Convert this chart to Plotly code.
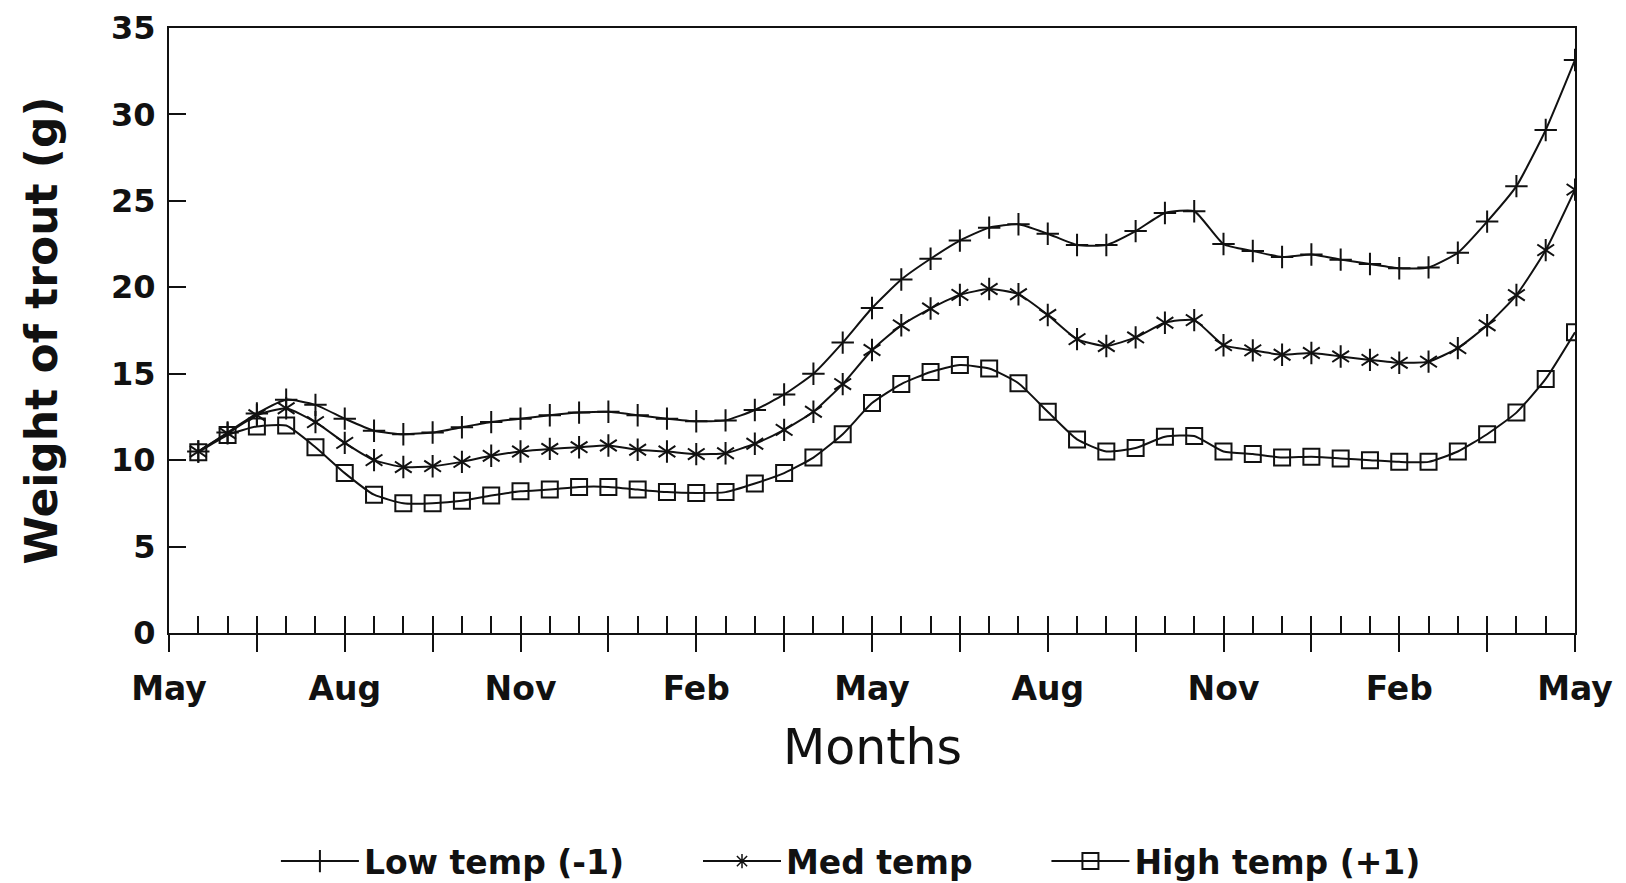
import plotly.graph_objects as go

# half-month sampling positions (months since first May)
months = [i * 0.5 for i in range(1, 49)]

low_temp = [10.5, 11.6, 12.7, 13.5, 13.2, 12.4, 11.7, 11.5, 11.6, 11.9, 12.2, 12.4,
            12.6, 12.75, 12.8, 12.6, 12.4, 12.25, 12.3, 12.9, 13.8, 15.0, 16.8, 18.8,
            20.45, 21.65, 22.7, 23.45, 23.65, 23.1, 22.45, 22.45, 23.25, 24.3, 24.4, 22.5,
            22.1, 21.75, 21.9, 21.6, 21.35, 21.1, 21.15, 22.0, 23.8, 25.85, 29.1, 33.15]
med_temp = [10.5, 11.55, 12.6, 13.0, 12.2, 11.0, 10.0, 9.6, 9.65, 9.9, 10.25, 10.5,
            10.65, 10.75, 10.85, 10.6, 10.5, 10.35, 10.4, 10.95, 11.75, 12.8, 14.4, 16.37,
            17.8, 18.77, 19.56, 19.9, 19.6, 18.4, 17.0, 16.6, 17.1, 17.95, 18.1, 16.65,
            16.35, 16.1, 16.2, 16.0, 15.8, 15.63, 15.7, 16.48, 17.8, 19.55, 22.15, 25.65]
high_temp = [10.45, 11.45, 11.95, 12.0, 10.75, 9.25, 8.0, 7.5, 7.5, 7.65, 7.95, 8.2,
             8.3, 8.45, 8.45, 8.3, 8.15, 8.1, 8.15, 8.65, 9.25, 10.15, 11.5, 13.3,
             14.4, 15.1, 15.5, 15.3, 14.45, 12.8, 11.2, 10.5, 10.7, 11.35, 11.4, 10.5,
             10.35, 10.15, 10.2, 10.1, 10.0, 9.9, 9.9, 10.5, 11.5, 12.75, 14.7, 17.4]

series_names = ["Low temp (-1)", "Med temp", "High temp (+1)"]

tick_positions = [0, 1.5, 3, 4.5, 6, 7.5, 9, 10.5, 12, 13.5, 15, 16.5, 18, 19.5, 21, 22.5, 24]
tick_labels = ["May", "", "Aug", "", "Nov", "", "Feb", "", "May", "", "Aug", "", "Nov", "", "Feb", "", "May"]
y_ticks = [0, 5, 10, 15, 20, 25, 30, 35]

FONT = "DejaVu Sans, Liberation Sans, sans-serif"
BLACK = "#111111"
PAD = "\u00a0" * 6   # spacing between legend entries
line_style = dict(color=BLACK, width=2, shape="spline", smoothing=0.5)

fig = go.Figure()

# Low temp
fig.add_trace(go.Scatter(
    x=months, y=low_temp, mode="lines+markers", name=series_names[0] + PAD,
    line=line_style, legendrank=1,
    marker=dict(symbol="cross-thin-open", size=16, color=BLACK, line=dict(color=BLACK, width=2)),
))
# Med temp (6-armed asterisk built from two Y symbols)
fig.add_trace(go.Scatter(
    x=months, y=med_temp, mode="lines+markers", name=series_names[1], showlegend=False,
    line=line_style, legendgroup="med",
    marker=dict(symbol="y-up-open", size=14, color=BLACK, line=dict(color=BLACK, width=2)),
))
fig.add_trace(go.Scatter(
    x=months, y=med_temp, mode="markers", showlegend=False, legendgroup="med", hoverinfo="skip",
    marker=dict(symbol="y-down-open", size=14, color=BLACK, line=dict(color=BLACK, width=2)),
))
fig.add_trace(go.Scatter(
    x=[None], y=[None], mode="lines+markers", name=series_names[1] + PAD, legendgroup="med", legendrank=2,
    line=dict(color=BLACK, width=2),
    marker=dict(symbol="asterisk-open", size=12, color=BLACK, line=dict(color=BLACK, width=1.5)),
))
# High temp
fig.add_trace(go.Scatter(
    x=months, y=high_temp, mode="lines+markers", name=series_names[2],
    line=line_style, legendrank=3,
    marker=dict(symbol="square-open", size=16, color=BLACK, line=dict(color=BLACK, width=2)),
))

# invisible trace to activate the inner-tick overlay axis
fig.add_trace(go.Scatter(x=[None], y=[None], xaxis="x2", showlegend=False, hoverinfo="skip"))

fig.update_layout(
    width=1618, height=875,
    margin=dict(l=161, r=51, t=20, b=250),
    paper_bgcolor="white", plot_bgcolor="white",
    font=dict(family=FONT, color=BLACK),
    showlegend=True,
    xaxis=dict(
        range=[0, 24], tickmode="array", tickvals=tick_positions, ticktext=tick_labels,
        ticks="outside", ticklen=17, tickwidth=2, tickcolor=BLACK,
        showline=True, linecolor=BLACK, linewidth=2, mirror=True,
        showgrid=False, zeroline=False, ticklabeloverflow="allow", automargin=False,
        tickfont=dict(size=33, family=FONT, color=BLACK, weight="bold"),
        ticklabelstandoff=8,
    ),
    xaxis2=dict(
        range=[0, 24], overlaying="x", anchor="y", side="bottom",
        tickmode="linear", tick0=0, dtick=0.5,
        ticks="inside", ticklen=17, tickwidth=2, tickcolor=BLACK,
        showticklabels=False, showline=False, showgrid=False, zeroline=False, automargin=False,
    ),
    yaxis=dict(
        range=[0, 35], tickmode="array", tickvals=y_ticks,
        ticks="inside", ticklen=17, tickwidth=2, tickcolor=BLACK,
        showline=True, linecolor=BLACK, linewidth=2, mirror=True,
        showgrid=False, zeroline=False, ticklabeloverflow="allow", automargin=False,
        tickfont=dict(size=32, family=FONT, color=BLACK, weight="bold"),
        ticklabelstandoff=5,
    ),
    legend=dict(
        orientation="h", x=0.485, xanchor="center",
        yref="container", y=0.025, yanchor="middle",
        font=dict(size=33, family=FONT, color=BLACK, weight="bold"),
        itemwidth=78, bgcolor="rgba(0,0,0,0)",
        traceorder="normal",
    ),
    annotations=[
        dict(text="Weight of trout (g)", xref="paper", yref="paper", x=-0.091, y=0.5,
             xanchor="center", yanchor="middle", textangle=-90, showarrow=False,
             font=dict(size=44, family=FONT, color=BLACK, weight="bold")),
        dict(text="Months", xref="paper", yref="paper", x=0.5, y=-0.19,
             xanchor="center", yanchor="middle", showarrow=False,
             font=dict(size=49, family=FONT, color=BLACK)),
    ],
)

fig.write_html("out.html")
